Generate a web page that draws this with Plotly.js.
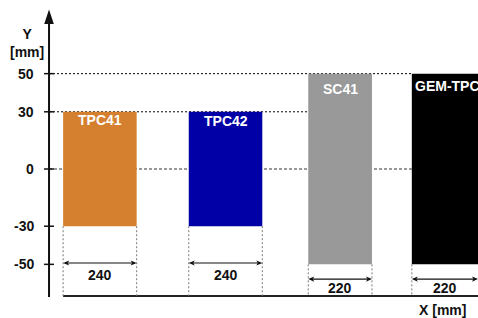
<!DOCTYPE html>
<html><head><meta charset="utf-8">
<script src="https://cdn.plot.ly/plotly-3.0.1.min.js"></script>
<style>html,body{margin:0;padding:0;background:#fff}#chart{width:478px;height:318px}</style>
</head><body><div id="chart"></div>
<script>
// ---- data ----
const detectors   = ['TPC41', 'TPC42', 'SC41', 'GEM-TPC'];
const xStart      = [46, 456, 846, 1184];      // mm
const xEnd        = [286, 696, 1054, 1400];    // mm
const yTop        = [30, 30, 50, 50];          // mm
const yBottom     = [-30, -30, -50, -50];      // mm
const widthLabels = ['240', '240', '220', '220'];
const yTicks      = [50, 30, 0, -30, -50];
const yTickLabels = ['50', '30', '0', '-30', '-50'];

// ---- styles ----
const colors = ['#d4802e', '#0000a6', '#999999', '#000000'];
const FONT = 'Liberation Sans, Arial, sans-serif';
const xRange = [-160, 1400];
const yRange = [-78.13, 88.62];
const pxX = 478 / (xRange[1] - xRange[0]);   // px per mm
const pxY = 318 / (yRange[1] - yRange[0]);
const axisBottom = -66.6;
const labelDropPx = [8, 9.5, 15, 12];
const dimY = yBottom.map(b => b === -30 ? -49.3 : -57.7);
const dimLabelDropPx = yBottom.map(b => b === -30 ? 11.5 : 9);

const traces = [{
  type: 'bar',
  x: xStart.map((s, i) => (s + xEnd[i]) / 2),
  width: xStart.map((s, i) => xEnd[i] - s),
  base: yBottom,
  y: yTop.map((t, i) => t - yBottom[i]),
  marker: {color: colors, line: {width: 0}},
  hoverinfo: 'skip',
  showlegend: false
}];

const shapes = [];
const annotations = [];

// dotted reference lines
shapes.push({type: 'line', layer: 'below', x0: 0, x1: xStart[3], y0: 50, y1: 50,
  line: {color: '#000', width: 1, dash: '2px,2px'}});
shapes.push({type: 'line', layer: 'below', x0: 0, x1: xStart[2], y0: 30, y1: 30,
  line: {color: '#000', width: 1, dash: '2px,2px'}});
shapes.push({type: 'line', layer: 'below', x0: 0, x1: xStart[3], y0: 0, y1: 0,
  line: {color: '#777', width: 1.5, dash: '3px,2px'}});

// y axis line + arrow
shapes.push({type: 'line', x0: 0, x1: 0, y0: axisBottom - 0.5, y1: 76,
  line: {color: '#111', width: 2}});
const ahw = 4.8 / pxX;
shapes.push({type: 'path', path: `M ${-ahw} 76 L 0 83.7 L ${ahw} 76 Z`,
  fillcolor: '#111', line: {width: 0}});

// y ticks
yTicks.forEach((v, i) => {
  shapes.push({type: 'line', x0: -5 / pxX, x1: 5 / pxX, y0: v, y1: v,
    line: {color: '#111', width: 1.5}});
  annotations.push({x: -13 / pxX, y: v, xref: 'x', yref: 'y', xanchor: 'right', yanchor: 'middle',
    text: '<b>' + yTickLabels[i] + '</b>', showarrow: false,
    font: {family: FONT, size: 14, color: '#111'}});
});

// bottom axis line
shapes.push({type: 'line', x0: xStart[0], x1: xRange[1], y0: axisBottom, y1: axisBottom,
  line: {color: '#222', width: 2}});

// dimension lines per detector
const headL = 6 / pxX, headH = 2.6 / pxY;
detectors.forEach((d, i) => {
  [xStart[i], xEnd[i]].forEach(xe => {
    if (xe < xRange[1]) {
      shapes.push({type: 'line', x0: xe, x1: xe, y0: yBottom[i], y1: axisBottom,
        line: {color: '#777', width: 1, dash: '2px,2px'}});
    }
  });
  const y = dimY[i];
  shapes.push({type: 'line', x0: xStart[i] + 2 / pxX, x1: xEnd[i] - 2 / pxX, y0: y, y1: y,
    line: {color: '#111', width: 1.2}});
  shapes.push({type: 'path', fillcolor: '#111', line: {width: 0},
    path: `M ${xStart[i]} ${y} L ${xStart[i] + headL} ${y + headH} L ${xStart[i] + headL * 0.75} ${y} L ${xStart[i] + headL} ${y - headH} Z`});
  shapes.push({type: 'path', fillcolor: '#111', line: {width: 0},
    path: `M ${xEnd[i]} ${y} L ${xEnd[i] - headL} ${y + headH} L ${xEnd[i] - headL * 0.75} ${y} L ${xEnd[i] - headL} ${y - headH} Z`});
  annotations.push({x: (xStart[i] + xEnd[i]) / 2, y: y, xref: 'x', yref: 'y',
    yshift: -dimLabelDropPx[i], xanchor: 'center', yanchor: 'middle', showarrow: false,
    text: '<b>' + widthLabels[i] + '</b>', font: {family: FONT, size: 14, color: '#111'}});
  // detector name
  const isLast = i === detectors.length - 1;
  annotations.push({x: isLast ? xStart[i] : (xStart[i] + xEnd[i]) / 2, y: yTop[i], xref: 'x', yref: 'y',
    xanchor: isLast ? 'left' : 'center', xshift: isLast ? 1 : 0,
    yanchor: 'middle', yshift: -labelDropPx[i], showarrow: false,
    text: '<b>' + d + '</b>', font: {family: FONT, size: 14, color: '#fff'}});
});

// axis titles
annotations.push({x: -22 / pxX, y: 66.1, xref: 'x', yref: 'y', xanchor: 'center', yanchor: 'middle',
  showarrow: false, text: '<b>Y</b><br><b>[mm]</b>', font: {family: FONT, size: 14, color: '#111'}});
annotations.push({x: 393 / pxX, y: -73.9, xref: 'x', yref: 'y', xanchor: 'center', yanchor: 'middle',
  showarrow: false, text: '<b>X [mm]</b>', font: {family: FONT, size: 14, color: '#111'}});

const layout = {
  width: 478, height: 318,
  margin: {l: 0, r: 0, t: 0, b: 0, pad: 0},
  paper_bgcolor: '#fff', plot_bgcolor: '#fff',
  barmode: 'overlay',
  xaxis: {range: xRange, visible: false, fixedrange: true},
  yaxis: {range: yRange, visible: false, fixedrange: true},
  shapes: shapes,
  annotations: annotations,
  showlegend: false
};

Plotly.newPlot('chart', traces, layout, {staticPlot: true, displayModeBar: false});
</script>
</body></html>
